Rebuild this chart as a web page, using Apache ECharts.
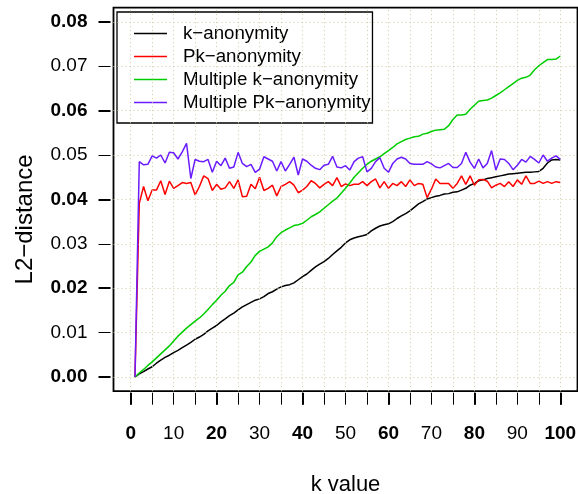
<!DOCTYPE html>
<html><head><meta charset="utf-8">
<script src="https://cdn.jsdelivr.net/npm/echarts@6/dist/echarts.min.js"></script>
<style>html,body{margin:0;padding:0;background:#fff}#c{width:578px;height:494px}</style>
</head><body><div id="c"></div>
<script>
const kValues = [1,2,3,4,5,6,7,8,9,10,11,12,13,14,15,16,17,18,19,20,21,22,23,24,25,26,27,28,29,30,31,32,33,34,35,36,37,38,39,40,41,42,43,44,45,46,47,48,49,50,51,52,53,54,55,56,57,58,59,60,61,62,63,64,65,66,67,68,69,70,71,72,73,74,75,76,77,78,79,80,81,82,83,84,85,86,87,88,89,90,91,92,93,94,95,96,97,98,99,100];

const kAnon = [0,0.0007,0.0012,0.0018,0.0023,0.0031,0.0038,0.0044,0.0049,0.0055,
 0.0060,0.0066,0.0072,0.0078,0.0085,0.0090,0.0096,0.0104,0.0110,0.0116,
 0.0124,0.0131,0.0138,0.0144,0.0151,0.0158,0.0163,0.0168,0.0173,0.0176,
 0.0181,0.0188,0.0192,0.0198,0.0203,0.0206,0.0208,0.0212,0.0219,0.0226,
 0.0232,0.0240,0.0248,0.0254,0.0260,0.0267,0.0276,0.0284,0.0292,0.0302,
 0.0309,0.0313,0.0316,0.0318,0.0321,0.0329,0.0335,0.0340,0.0343,0.0345,
 0.0350,0.0357,0.0363,0.0368,0.0374,0.0382,0.0390,0.0395,0.0401,0.0404,
 0.0407,0.0409,0.0412,0.0413,0.0416,0.0417,0.0421,0.0425,0.0432,0.0436,
 0.0442,0.0444,0.0447,0.0449,0.0451,0.0453,0.0455,0.0457,0.0458,0.0459,
 0.0460,0.0461,0.0461,0.0462,0.0463,0.0470,0.0482,0.0489,0.0490,0.0489];

const pkAnon = [0,0.0391,0.0429,0.0397,0.0421,0.0421,0.0442,0.0411,0.0441,0.0425,
 0.0431,0.0438,0.0436,0.0438,0.0410,0.0429,0.0453,0.0447,0.0420,0.0434,
 0.0423,0.0426,0.0440,0.0425,0.0444,0.0406,0.0407,0.0434,0.0424,0.0450,
 0.0420,0.0425,0.0432,0.0408,0.0429,0.0434,0.0440,0.0432,0.0415,0.0421,
 0.0429,0.0442,0.0436,0.0426,0.0434,0.0440,0.0431,0.0449,0.0429,0.0435,
 0.0431,0.0434,0.0434,0.0440,0.0431,0.0440,0.0446,0.0426,0.0440,0.0425,
 0.0436,0.0431,0.0440,0.0429,0.0444,0.0431,0.0436,0.0434,0.0404,0.0423,
 0.0446,0.0436,0.0436,0.0436,0.0425,0.0436,0.0453,0.0434,0.0453,0.0432,
 0.0444,0.0445,0.0441,0.0426,0.0432,0.0436,0.0429,0.0440,0.0429,0.0444,
 0.0434,0.0453,0.0436,0.0436,0.0441,0.0436,0.0440,0.0436,0.0440,0.0438];

const multiKAnon = [0,0.0009,0.0017,0.0026,0.0034,0.0043,0.0052,0.0061,0.0070,0.0081,
 0.0092,0.0101,0.0110,0.0118,0.0126,0.0133,0.0142,0.0152,0.0163,0.0173,
 0.0184,0.0193,0.0206,0.0213,0.0230,0.0236,0.0249,0.0259,0.0274,0.0283,
 0.0288,0.0293,0.0302,0.0316,0.0325,0.0331,0.0336,0.0341,0.0343,0.0346,
 0.0353,0.0361,0.0366,0.0372,0.0380,0.0388,0.0396,0.0403,0.0414,0.0425,
 0.0437,0.0450,0.0460,0.0470,0.0479,0.0486,0.0491,0.0496,0.0503,0.0510,
 0.0517,0.0525,0.0530,0.0535,0.0538,0.0541,0.0542,0.0547,0.0549,0.0553,
 0.0556,0.0557,0.0558,0.0566,0.0580,0.0590,0.0590,0.0592,0.0603,0.0612,
 0.0621,0.0623,0.0624,0.0628,0.0634,0.0640,0.0647,0.0654,0.0661,0.0668,
 0.0673,0.0675,0.0680,0.0692,0.0701,0.0708,0.0715,0.0715,0.0716,0.0723];

const multiPkAnon = [0,0.0485,0.0478,0.0479,0.0498,0.0493,0.0500,0.0482,0.0506,0.0505,
 0.0491,0.0507,0.0526,0.0447,0.0490,0.0486,0.0485,0.0490,0.0461,0.0486,
 0.0476,0.0493,0.0470,0.0473,0.0506,0.0481,0.0474,0.0479,0.0461,0.0468,
 0.0496,0.0491,0.0486,0.0464,0.0485,0.0464,0.0479,0.0495,0.0455,0.0491,
 0.0486,0.0477,0.0470,0.0467,0.0477,0.0479,0.0497,0.0473,0.0471,0.0476,
 0.0466,0.0485,0.0493,0.0496,0.0462,0.0470,0.0485,0.0494,0.0470,0.0461,
 0.0481,0.0491,0.0495,0.0491,0.0481,0.0479,0.0479,0.0479,0.0485,0.0480,
 0.0473,0.0471,0.0476,0.0481,0.0472,0.0472,0.0481,0.0506,0.0484,0.0470,
 0.0491,0.0471,0.0481,0.0510,0.0466,0.0491,0.0490,0.0481,0.0467,0.0477,
 0.0490,0.0484,0.0497,0.0490,0.0482,0.0500,0.0486,0.0493,0.0498,0.0490];

const seriesNames = ['k\u2212anonymity','Pk\u2212anonymity','Multiple k\u2212anonymity','Multiple Pk\u2212anonymity'];
const seriesColors = ['#000000','#ff0000','#00cd00','#6a1cff'];

const xTicksAll = [0,5,10,15,20,25,30,35,40,45,50,55,60,65,70,75,80,85,90,95,100];
const xLabelsBold = [0,20,40,60,80,100];
const xLabelsPlain = [10,30,50,70,90];
const yLabelsBold = [0,0.02,0.04,0.06,0.08];
const yLabelsPlain = [0.01,0.03,0.05,0.07];
const yGridValues = [0,0.01,0.02,0.03,0.04,0.05,0.06,0.07,0.08];
const xTitle = 'k value';
const yTitle = 'L2\u2212distance';

const FONT = 'Liberation Sans, Arial, Helvetica, sans-serif';
const chart = echarts.init(document.getElementById('c'), null, {renderer:'canvas'});

function pairs(arr){ return kValues.map((k,i)=>[k, arr[i]]); }

const xBase = {type:'value', gridIndex:0, min:-4, max:104, position:'bottom', offset:1.5,
  axisLine:{show:false, onZero:false}, splitLine:{show:false}};
const yBase = {type:'value', gridIndex:0, min:-0.0032, max:0.0832, position:'left', offset:3,
  axisLine:{show:false, onZero:false}, splitLine:{show:false}};

const gridMarks = xTicksAll.map(v=>({xAxis:v})).concat(yGridValues.map(v=>({yAxis:v})));

const option = {
  animation:false,
  backgroundColor:'#ffffff',
  grid:{left:113.5, right:0.5, top:7.6, bottom:102.8, show:true, borderColor:'#000', borderWidth:1.8, backgroundColor:'#fff', containLabel:false, outerBoundsMode:'none'},
  xAxis:[
    Object.assign({}, xBase, {
      name:xTitle, nameLocation:'middle', nameGap:81, nameMoveOverlap:false,
      nameTextStyle:{fontSize:22, color:'#000', fontFamily:FONT},
      axisTick:{show:true, customValues:xTicksAll, length:12, lineStyle:{color:'#000', width:1}},
      axisLabel:{customValues:xLabelsPlain, margin:31.5, fontSize:19, color:'#000', fontFamily:FONT}
    }),
    Object.assign({}, xBase, {
      axisTick:{show:true, customValues:xLabelsBold, length:12, lineStyle:{color:'#000', width:2}},
      axisLabel:{customValues:xLabelsBold, margin:31.5, fontSize:19, fontWeight:'bold', color:'#000', fontFamily:FONT}
    })
  ],
  yAxis:[
    Object.assign({}, yBase, {
      name:yTitle, nameLocation:'middle', nameGap:73.5, nameRotate:90, nameMoveOverlap:false,
      nameTextStyle:{fontSize:24, color:'#000', fontFamily:FONT, padding:[0,40,0,0]},
      axisTick:{show:true, customValues:yLabelsPlain, length:12, lineStyle:{color:'#000', width:1}},
      axisLabel:{customValues:yLabelsPlain, margin:23, fontSize:19, color:'#000', fontFamily:FONT,
        formatter:v=>v.toFixed(2)}
    }),
    Object.assign({}, yBase, {
      axisTick:{show:true, customValues:yLabelsBold, length:12, lineStyle:{color:'#000', width:2}},
      axisLabel:{customValues:yLabelsBold, margin:23, fontSize:19, fontWeight:'bold', color:'#000', fontFamily:FONT,
        formatter:v=>v.toFixed(2)}
    })
  ],
  legend:{
    orient:'vertical', left:117, top:12, padding:[12,2,11,17], itemGap:4,
    itemWidth:33, itemHeight:1.6, icon:'rect',
    backgroundColor:'#fff', borderColor:'#000', borderWidth:1.3, borderRadius:0,
    textStyle:{fontSize:18.7, lineHeight:18, color:'#000', fontFamily:FONT, padding:[0,0,0,11]},
    data:seriesNames
  },
  series:[
    {type:'line', name:'_grid', data:[], xAxisIndex:0, yAxisIndex:0, z:1, silent:true,
     markLine:{silent:true, symbol:['none','none'], label:{show:false}, animation:false,
       lineStyle:{type:[1,3], color:'#cfc8a4', width:1}, data:gridMarks}}
  ].concat([kAnon, pkAnon, multiKAnon, multiPkAnon].map((arr,i)=>({
    type:'line', name:seriesNames[i], data:pairs(arr), xAxisIndex:0, yAxisIndex:0,
    showSymbol:false, symbol:'none', z:3+i,
    lineStyle:{color:seriesColors[i], width:1.5}, itemStyle:{color:seriesColors[i]}
  })))
};
chart.setOption(option);
</script>
</body></html>
